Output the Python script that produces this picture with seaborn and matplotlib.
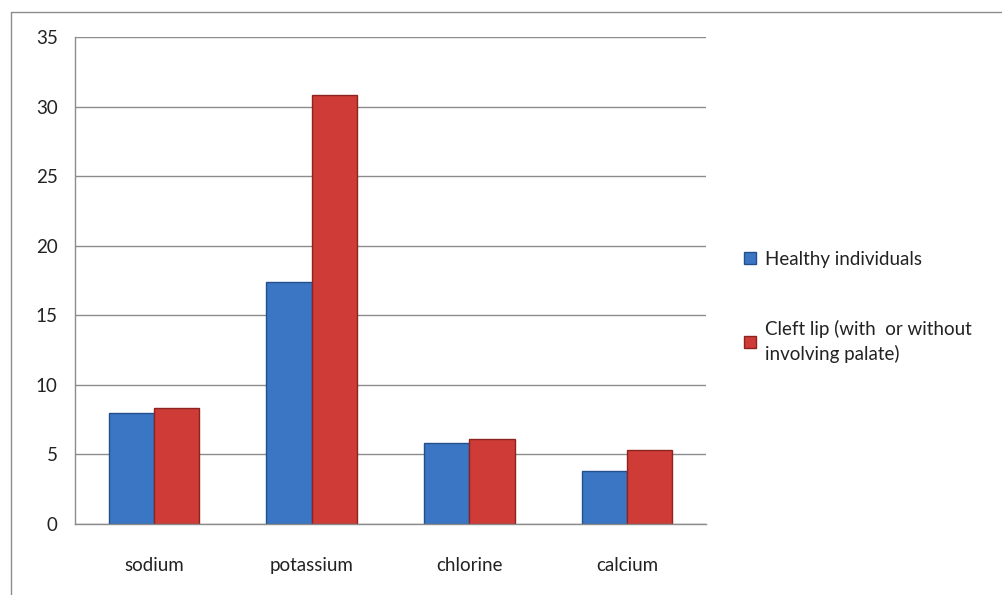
from matplotlib import pyplot as plt
from matplotlib.lines import Line2D
from matplotlib.patches import Patch
import numpy as np
import pandas as pd
import seaborn as sns

minerals = ['sodium', 'potassium', 'chlorine', 'calcium']
healthy = [8.0, 17.4, 5.8, 3.8]
cleft = [8.35, 30.8, 6.1, 5.3]
series_names = ['Healthy individuals',
                'Cleft lip (with  or without\ninvolving palate)']
y_ticks = [0, 5, 10, 15, 20, 25, 30, 35]

colors = ['#3b76c4', '#cf3b36']
edges = ['#234f8a', '#8c2421']

df = pd.DataFrame({
    'mineral': minerals * 2,
    'value': healthy + cleft,
    'group': [series_names[0]] * 4 + [series_names[1]] * 4,
})

sns.set_style('white')
plt.rcParams['font.family'] = ['Lato', 'DejaVu Sans']

fig = plt.figure(figsize=(10.03, 5.95), dpi=100)
ax = fig.add_axes([0.0748, 0.1193, 0.6291, 0.8185])

sns.barplot(data=df, x='mineral', y='value', hue='group',
            palette=colors, width=0.575, ax=ax, legend=False,
            saturation=1, linewidth=1)
for i, cont in enumerate(ax.containers):
    for bar in cont:
        bar.set_edgecolor(edges[i])

ax.set_ylim(0, 35)
ax.set_xlim(-0.5, 3.5)
ax.set_yticks(y_ticks)
ax.yaxis.grid(True, color='#8c8c8c', linewidth=1)
ax.set_axisbelow(True)
ax.set_xlabel('')
ax.set_ylabel('')
for side in ['top', 'right']:
    ax.spines[side].set_visible(False)
for side in ['left', 'bottom']:
    ax.spines[side].set_color('#8c8c8c')
    ax.spines[side].set_linewidth(1)

ax.set_xticks(np.arange(-0.5, 4, 1), minor=True)
ax.tick_params(axis='x', which='major', length=0, pad=24, labelsize=13.5,
               colors='#222222')
ax.tick_params(axis='x', which='minor', length=6, color='#8c8c8c',
               direction='out', width=1)
ax.tick_params(axis='y', length=7, color='#8c8c8c', direction='inout',
               width=1, labelsize=13.5, colors='#222222', pad=9)

handles = [Patch(facecolor=colors[k], edgecolor=edges[k]) for k in range(2)]
leg = fig.legend(handles, series_names, loc='upper left',
                 bbox_to_anchor=(0.725, 0.607), frameon=False, fontsize=13.5,
                 handlelength=0.65, handleheight=0.65, handletextpad=0.45,
                 labelspacing=2.8)
for t in leg.get_texts():
    t.set_linespacing(1.45)
    t.set_color('#222222')

# outer chart-area border (top and left visible)
fig.add_artist(Line2D([0.0105, 1.0], [0.98, 0.98], transform=fig.transFigure,
                      color='#8c8c8c', linewidth=1))
fig.add_artist(Line2D([0.0105, 0.0105], [0.0, 0.98], transform=fig.transFigure,
                      color='#8c8c8c', linewidth=1))

fig.savefig('out.png', dpi=100)
